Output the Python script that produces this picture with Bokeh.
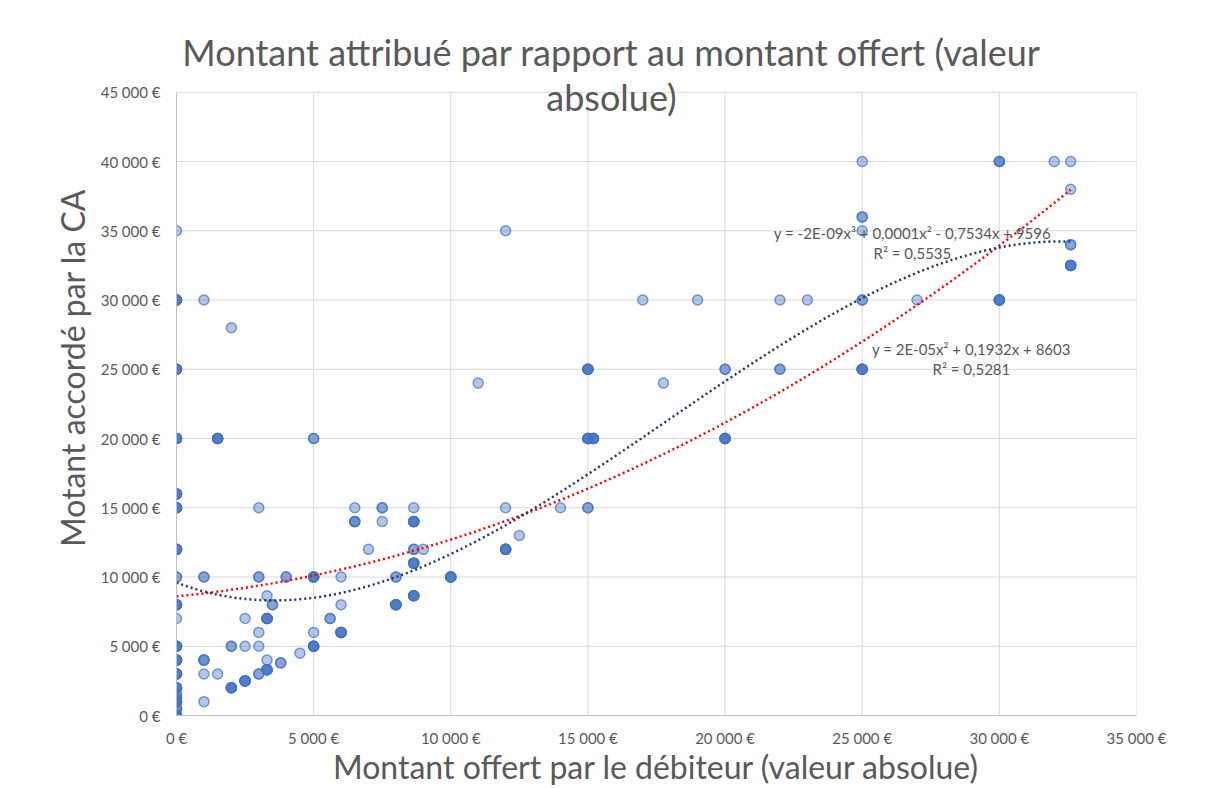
import numpy as np
from bokeh.plotting import figure
from bokeh.models import ColumnDataSource, FixedTicker, Label
from bokeh.embed import file_html
from bokeh.resources import INLINE

# ---------------- data ----------------
# amount offered by the debtor (EUR)
offered = [
    0, 0, 0, 0, 0, 0, 0, 0, 0, 0, 0, 0, 0, 0, 0, 0, 0, 0, 0,
    1000, 2000, 12000, 1500, 5000, 11000, 17750,
    15000, 15000, 15200, 15000, 14000, 12000, 12500, 12000, 10000,
    25000, 25000, 25000, 17000, 19000, 22000, 23000, 25000, 27000, 30000,
    30000, 32000, 32600, 32600, 32600, 32600,
    20000, 22000, 25000, 20000,
    3000, 6500, 7500, 8650, 6500, 7500, 8650, 7000, 8650, 9000, 8650,
    1000, 3000, 4000, 5000, 6000, 8000,
    3300, 3500, 6000, 8000, 8650,
    2500, 3300, 5600, 3000, 5000, 6000,
    2000, 2500, 3000, 5000, 4500,
    1000, 3300, 3800, 3300, 1000, 1500, 3000, 2000, 2500, 1000,
]
# amount granted (EUR)
granted = [
    35000, 30000, 25000, 20000, 16000, 15000, 12000, 10000, 8000, 7000,
    5000, 4000, 3000, 2000, 1500, 1200, 1000, 500, 0,
    30000, 28000, 35000, 20000, 20000, 24000, 24000,
    25000, 20000, 20000, 15000, 15000, 15000, 13000, 12000, 10000,
    40000, 36000, 35000, 30000, 30000, 30000, 30000, 30000, 30000, 30000,
    40000, 40000, 40000, 38000, 34000, 32500,
    25000, 25000, 25000, 20000,
    15000, 15000, 15000, 15000, 14000, 14000, 14000, 12000, 12000, 12000, 11000,
    10000, 10000, 10000, 10000, 10000, 10000,
    8650, 8000, 8000, 8000, 8650,
    7000, 7000, 7000, 6000, 6000, 6000,
    5000, 5000, 5000, 5000, 4500,
    4000, 4000, 3800, 3300, 3000, 3000, 3000, 2000, 2500, 1000,
]
# number of cases sharing the same point
cases = [
    1, 5, 5, 5, 5, 5, 5, 2, 5, 1, 5, 5, 5, 5, 2, 2, 5, 3, 5,
    1, 1, 1, 5, 2, 1, 1,
    5, 5, 5, 2, 1, 1, 1, 5, 5,
    1, 2, 1, 1, 1, 1, 1, 2, 1, 5,
    3, 1, 1, 1, 2, 5,
    2, 2, 5, 5,
    1, 1, 2, 1, 3, 1, 5, 1, 2, 1, 5,
    2, 2, 2, 5, 1, 2,
    1, 2, 1, 5, 5,
    1, 5, 2, 1, 1, 5,
    2, 1, 1, 5, 1,
    3, 1, 2, 5, 1, 1, 2, 5, 5, 1,
]

x_ticks = [0, 5000, 10000, 15000, 20000, 25000, 30000, 35000]
x_tick_labels = ["0\u00a0€", "5\u202f000\u00a0€", "10\u202f000\u00a0€", "15\u202f000\u00a0€",
                 "20\u202f000\u00a0€", "25\u202f000\u00a0€", "30\u202f000\u00a0€", "35\u202f000\u00a0€"]
y_ticks = [0, 5000, 10000, 15000, 20000, 25000, 30000, 35000, 40000, 45000]
y_tick_labels = ["0\u00a0€", "5\u202f000\u00a0€", "10\u202f000\u00a0€", "15\u202f000\u00a0€",
                 "20\u202f000\u00a0€", "25\u202f000\u00a0€", "30\u202f000\u00a0€", "35\u202f000\u00a0€",
                 "40\u202f000\u00a0€", "45\u202f000\u00a0€"]

title_lines = ["Montant attribué par rapport au montant offert (valeur", "absolue)"]
x_title = "Montant offert par le débiteur (valeur absolue)"
y_title = "Motant accordé par la CA"

# trendline coefficients (highest power first)
poly2_coef = [2.17e-5, 0.1932, 8603]
poly3_coef = [-2.2e-9, 1.18e-4, -0.7534, 9596]
poly2_text = ["y = 2E-05x² + 0,1932x + 8603", "R² = 0,5281"]
poly3_text = ["y = -2E-09x³ + 0,0001x² - 0,7534x + 9596", "R² = 0,5535"]

# ---------------- figure ----------------
FONT = "Lato"
GREY_TXT = "#595959"
GRID = "#D9D9D9"

X_MAX, Y_MAX = 35000, 45000
Y_TOP = Y_MAX * 697 / 625  # extra headroom inside the frame for the title

p = figure(width=1213, height=788,
           x_range=(0, X_MAX), y_range=(0, Y_TOP),
           output_backend="svg", toolbar_location=None,
           min_border_left=176, min_border_right=77,
           min_border_top=20, min_border_bottom=71,
           background_fill_color="white", border_fill_color="white")
p.outline_line_color = None
p.xgrid.visible = False
p.ygrid.visible = False

# gridlines limited to the value area
p.segment(x0=x_ticks, y0=[0] * len(x_ticks), x1=x_ticks, y1=[Y_MAX] * len(x_ticks),
          line_color=GRID, line_width=1)
p.segment(x0=[0] * len(y_ticks), y0=y_ticks, x1=[X_MAX] * len(y_ticks), y1=y_ticks,
          line_color=GRID, line_width=1)

xs = np.repeat(np.array(offered, dtype=float), cases)
ys = np.repeat(np.array(granted, dtype=float), cases)
src = ColumnDataSource(dict(x=xs, y=ys))
p.scatter("x", "y", source=src, marker="circle", size=10,
          fill_color="#4472C4", fill_alpha=0.4,
          line_color="#4472C4", line_alpha=0.7, line_width=1.5)

tx = np.linspace(0, max(offered), 300)
p.line(tx, np.polyval(poly2_coef, tx), line_color="#FF0000", line_width=2.5, line_dash="2 3")
p.line(tx, np.polyval(poly3_coef, tx), line_color="#203864", line_width=2.5, line_dash="2 3")

# axes
p.xaxis.ticker = FixedTicker(ticks=x_ticks)
p.yaxis.ticker = FixedTicker(ticks=y_ticks)
p.xaxis.major_label_overrides = dict(zip(x_ticks, x_tick_labels))
p.yaxis.major_label_overrides = dict(zip(y_ticks, y_tick_labels))
p.yaxis.bounds = (0, Y_MAX)
for ax in (p.xaxis, p.yaxis):
    ax.major_tick_line_color = None
    ax.minor_tick_line_color = None
    ax.axis_line_color = "#BFBFBF"
    ax.major_label_text_font = FONT
    ax.major_label_text_font_size = "15px"
    ax.major_label_text_color = GREY_TXT
    ax.axis_label_text_font = FONT
    ax.axis_label_text_font_size = "32px"
    ax.axis_label_text_font_style = "normal"
    ax.axis_label_text_color = GREY_TXT
p.xaxis.axis_label = x_title
p.yaxis.axis_label = y_title
p.xaxis.major_label_standoff = 7
p.xaxis.axis_label_standoff = -3
p.yaxis.major_label_standoff = 10
p.yaxis.axis_label_standoff = 6

# title (two lines, the second overlapping the top of the value area)
for txt, yy in zip(title_lines, [47880, 44640]):
    p.add_layout(Label(x=15860, y=yy, text=txt, text_align="center", text_baseline="middle",
                       text_font=FONT, text_font_size="36px", text_color=GREY_TXT))

# trendline equations
for txt, xx, yy in [(poly3_text[0], 26830, 34850), (poly3_text[1], 26830, 33400),
                    (poly2_text[0], 28980, 26490), (poly2_text[1], 28980, 25050)]:
    p.add_layout(Label(x=xx, y=yy, text=txt, text_align="center", text_baseline="middle",
                       text_font=FONT, text_font_size="15px", text_color=GREY_TXT))

open("out.html", "w").write(file_html(p, INLINE))
